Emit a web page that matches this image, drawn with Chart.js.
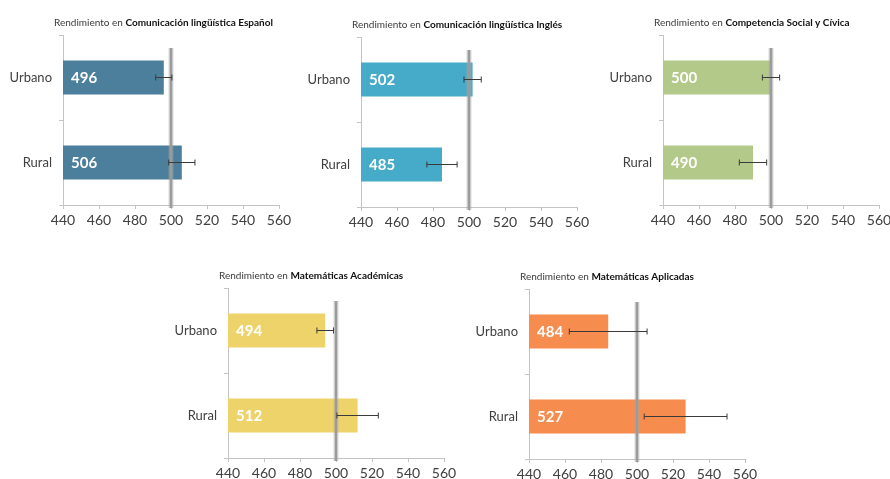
<!DOCTYPE html>
<html>
<head>
<meta charset="utf-8">
<script src="https://cdn.jsdelivr.net/npm/chart.js@4.4.1/dist/chart.umd.min.js"></script>
<style>
html, body { margin: 0; padding: 0; background: #fff; width: 890px; height: 479px; overflow: hidden; }
canvas { position: absolute; }
</style>
</head>
<body>
<canvas id="c0"></canvas>
<canvas id="c1"></canvas>
<canvas id="c2"></canvas>
<canvas id="c3"></canvas>
<canvas id="c4"></canvas>
<script>
// datos
var subjects = ['Comunicación lingüística Español', 'Comunicación lingüística Inglés', 'Competencia Social y Cívica', 'Matemáticas Académicas', 'Matemáticas Aplicadas'];
var categories = ['Urbano', 'Rural'];
var urbano = [496, 502, 500, 494, 484];
var rural = [506, 485, 490, 512, 527];
var urbanoErr = [4.5, 4.8, 4.8, 4.6, 21.6];
var ruralErr = [7.3, 8.4, 7.6, 11.5, 23];
var xTicks = [440, 460, 480, 500, 520, 540, 560];
var media = 500;

// estilo
var colores = ['#4c7f9c', '#46abc8', '#b3c98a', '#eed36b', '#f68c4e'];
var plotPos = [[63, 35], [361, 37], [663, 35], [228, 288], [529, 289]];
var ejeColor = '#c4c4c4';
var textoColor = '#404040';
var fuente = 'Lato, "Open Sans", sans-serif';

var extras = {
    id: 'extras',
    afterDatasetsDraw: function (chart) {
        var ctx = chart.ctx;
        var a = chart.chartArea;
        var x = chart.scales.x;
        var ds = chart.data.datasets[0];

        // linea de la media
        var xm = x.getPixelForValue(media);
        ctx.save();
        ctx.lineCap = 'butt';
        ctx.strokeStyle = 'rgba(170,170,170,0.45)';
        ctx.lineWidth = 5;
        ctx.beginPath(); ctx.moveTo(xm, a.top + 13); ctx.lineTo(xm, a.bottom + 3); ctx.stroke();
        ctx.strokeStyle = '#9b9b9b';
        ctx.lineWidth = 2.5;
        ctx.beginPath(); ctx.moveTo(xm, a.top + 13); ctx.lineTo(xm, a.bottom + 3); ctx.stroke();

        // barras de error y etiquetas
        var meta = chart.getDatasetMeta(0);
        meta.data.forEach(function (bar, i) {
            var v = ds.data[i], e = ds.errores[i];
            var x1 = x.getPixelForValue(v - e), x2 = x.getPixelForValue(v + e);
            var yc = bar.y;
            ctx.strokeStyle = '#3a3a3a';
            ctx.lineWidth = 1;
            ctx.beginPath();
            ctx.moveTo(x1, yc); ctx.lineTo(x2, yc);
            ctx.moveTo(x1, yc - 3); ctx.lineTo(x1, yc + 3);
            ctx.moveTo(x2, yc - 3); ctx.lineTo(x2, yc + 3);
            ctx.stroke();

            ctx.fillStyle = '#ffffff';
            ctx.font = 'bold 15px ' + fuente;
            ctx.textAlign = 'left';
            ctx.textBaseline = 'middle';
            ctx.fillText(String(v), a.left + 8, yc + 1);
        });

        // titulo con parte en negrita
        var t1 = 'Rendimiento en ';
        var t2 = ds.titulo;
        ctx.textBaseline = 'middle';
        ctx.textAlign = 'left';
        ctx.fillStyle = '#3a3a3a';
        ctx.font = '10px ' + fuente;
        var w1 = ctx.measureText(t1).width;
        ctx.fillText(t1, a.left - 9, a.top - 12);
        ctx.fillStyle = '#111111';
        ctx.font = 'bold 10px ' + fuente;
        ctx.fillText(t2, a.left - 9 + w1, a.top - 12);
        ctx.restore();
    }
};

subjects.forEach(function (s, i) {
    var cv = document.getElementById('c' + i);
    cv.width = 300;
    cv.height = 240;
    cv.style.left = (plotPos[i][0] - 63) + 'px';
    cv.style.top = (plotPos[i][1] - 35) + 'px';

    new Chart(cv.getContext('2d'), {
        type: 'bar',
        data: {
            labels: categories,
            datasets: [{
                data: [urbano[i], rural[i]],
                errores: [urbanoErr[i], ruralErr[i]],
                titulo: s,
                backgroundColor: colores[i],
                barPercentage: 0.4,
                categoryPercentage: 1
            }]
        },
        options: {
            indexAxis: 'y',
            responsive: false,
            animation: false,
            layout: { padding: { top: 35, right: 21, left: 0, bottom: 0 } },
            plugins: { legend: { display: false }, tooltip: { enabled: false } },
            scales: {
                x: {
                    min: 440, max: 560,
                    afterBuildTicks: function (sc) { sc.ticks = xTicks.map(function (v) { return { value: v }; }); },
                    ticks: { color: textoColor, font: { family: fuente, size: 14 }, padding: 3, maxRotation: 0 },
                    grid: { drawOnChartArea: false, tickLength: 4, color: ejeColor },
                    border: { color: ejeColor },
                    afterFit: function (sc) { sc.height = 35; }
                },
                y: {
                    ticks: { color: textoColor, font: { family: fuente, size: 13 }, padding: 7 },
                    grid: { drawOnChartArea: false, tickLength: 4, color: ejeColor, offset: true },
                    border: { color: ejeColor },
                    afterFit: function (sc) { sc.width = 63; }
                }
            }
        },
        plugins: [extras]
    });
});
</script>
</body>
</html>
